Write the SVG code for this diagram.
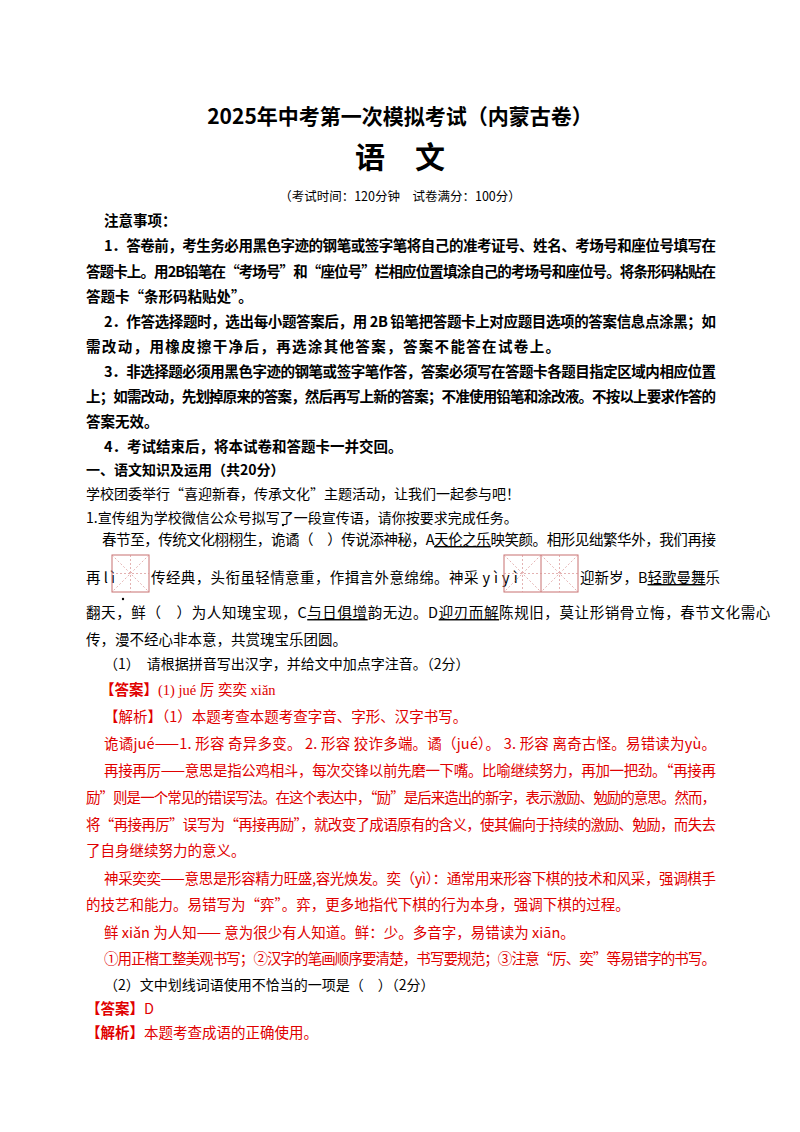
<svg xmlns="http://www.w3.org/2000/svg" width="800" height="1132" viewBox="0 0 800 1132">
<style>
text{font-family:"Noto Sans CJK SC","Liberation Serif",serif;font-size:14.5px;fill:#000}
.b{font-weight:bold}
.r{fill:#e00000}
.k{font-family:"Liberation Serif","Noto Sans CJK SC",serif}
.g{stroke:#c87070;stroke-width:1;fill:none}
.d{stroke:#d89090;stroke-width:0.7;stroke-dasharray:2 2;fill:none}
.ul{text-decoration:underline}
</style>
<rect width="800" height="1132" fill="#fff"/>
<text x="400" y="124" text-anchor="middle" class="b" style="font-size:21px">2025年中考第一次模拟考试（内蒙古卷）</text>
<text x="400" y="168" text-anchor="middle" class="b" style="font-size:30px">语　文</text>
<text x="400" y="201" text-anchor="middle" style="font-size:12.5px">（考试时间：120分钟　试卷满分：100分）</text>
<text x="104" y="226" class="b">注意事项：</text>
<text x="104" y="251" class="b" textLength="612" lengthAdjust="spacing">1．答卷前，考生务必用黑色字迹的钢笔或签字笔将自己的准考证号、姓名、考场号和座位号填写在</text>
<text x="86" y="277" class="b" textLength="630" lengthAdjust="spacing">答题卡上。用2B铅笔在“考场号”和“座位号”栏相应位置填涂自己的考场号和座位号。将条形码粘贴在</text>
<text x="86" y="302" class="b">答题卡“条形码粘贴处”。</text>
<text x="104" y="327" class="b" textLength="612" lengthAdjust="spacing">2．作答选择题时，选出每小题答案后，用 2B 铅笔把答题卡上对应题目选项的答案信息点涂黑；如</text>
<text x="86" y="352" class="b" textLength="474" lengthAdjust="spacing">需改动，用橡皮擦干净后，再选涂其他答案，答案不能答在试卷上。</text>
<text x="104" y="377" class="b" textLength="612" lengthAdjust="spacing">3．非选择题必须用黑色字迹的钢笔或签字笔作答，答案必须写在答题卡各题目指定区域内相应位置</text>
<text x="86" y="402" class="b" textLength="630" lengthAdjust="spacing">上；如需改动，先划掉原来的答案，然后再写上新的答案；不准使用铅笔和涂改液。不按以上要求作答的</text>
<text x="86" y="427" class="b">答案无效。</text>
<text x="104" y="452" class="b">4．考试结束后，将本试卷和答题卡一并交回。</text>
<text x="86" y="475" class="b" style="font-size:14px">一、语文知识及运用（共20分）</text>
<text x="86" y="499" style="font-size:14px">学校团委举行“喜迎新春，传承文化”主题活动，让我们一起参与吧！</text>
<text x="86" y="523" style="font-size:14px">1.宣传组为学校微信公众号拟写了一段宣传语，请你按要求完成任务。</text>
<g style="font-size:13.5px">
<text x="102" y="545" textLength="614" lengthAdjust="spacing">春节至，传统文化栩栩生，诡谲（　）传说添神秘，A<tspan class="ul">天伦之乐</tspan>映笑颜。相形见绌繁华外，我们再接</text>
<circle cx="283" cy="525" r="1.2"/>
<text x="86" y="583">再 l ì</text>
<text x="151" y="583" style="letter-spacing:0.4px">传经典，头衔虽轻情意重，作揖言外意绵绵。神采 y ì y ì</text>
<text x="580" y="583">迎新岁，B<tspan class="ul">轻歌曼舞</tspan>乐</text>
<text x="86" y="618" style="letter-spacing:0.6px">翻天，鲜（　）为人知瑰宝现，C<tspan class="ul">与日俱增</tspan>韵无边。D<tspan class="ul">迎刃而解</tspan>陈规旧，莫让形销骨立悔，春节文化需心</text>
<circle cx="123" cy="599" r="1.2"/>
<text x="86" y="645">传，漫不经心非本意，共赏瑰宝乐团圆。</text>
</g>
<g>
<rect class="g" x="112" y="555" width="37" height="37"/>
<line class="d" x1="112" y1="573.5" x2="149" y2="573.5"/><line class="d" x1="130.5" y1="555" x2="130.5" y2="592"/>
<line class="d" x1="112" y1="555" x2="149" y2="592"/><line class="d" x1="149" y1="555" x2="112" y2="592"/>
<rect class="g" x="504" y="555" width="74" height="37"/>
<line class="g" x1="541" y1="555" x2="541" y2="592"/>
<line class="d" x1="504" y1="573.5" x2="578" y2="573.5"/><line class="d" x1="522.5" y1="555" x2="522.5" y2="592"/><line class="d" x1="559.5" y1="555" x2="559.5" y2="592"/>
<line class="d" x1="504" y1="555" x2="541" y2="592"/><line class="d" x1="541" y1="555" x2="504" y2="592"/>
<line class="d" x1="541" y1="555" x2="578" y2="592"/><line class="d" x1="578" y1="555" x2="541" y2="592"/>
</g>
<text x="104" y="669" style="font-size:14px">（1）　请根据拼音写出汉字，并给文中加点字注音。（2分）</text>
<text x="100" y="695" class="r"><tspan class="b">【答案】</tspan><tspan class="k">(1) jué 厉 奕奕 xiǎn</tspan></text>
<text x="104" y="722" class="r">【解析】（1）本题考查本题考查字音、字形、汉字书写。</text>
<text x="104" y="749" class="r" textLength="612" lengthAdjust="spacing">诡谲jué——1. 形容 奇异多变。 2. 形容 狡诈多端。谲（jué）。 3. 形容 离奇古怪。易错读为yù。</text>
<text x="104" y="776" class="r" textLength="612" lengthAdjust="spacing">再接再厉——意思是指公鸡相斗，每次交锋以前先磨一下嘴。比喻继续努力，再加一把劲。“再接再</text>
<text x="86" y="803" class="r" textLength="630" lengthAdjust="spacing">励”则是一个常见的错误写法。在这个表达中，“励”是后来造出的新字，表示激励、勉励的意思。然而，</text>
<text x="86" y="830" class="r" textLength="630" lengthAdjust="spacing">将“再接再厉”误写为“再接再励”，就改变了成语原有的含义，使其偏向于持续的激励、勉励，而失去</text>
<text x="86" y="856" class="r">了自身继续努力的意义。</text>
<text x="104" y="884" class="r" textLength="612" lengthAdjust="spacing">神采奕奕——意思是形容精力旺盛,容光焕发。奕（yì）：通常用来形容下棋的技术和风采，强调棋手</text>
<text x="86" y="910" class="r">的技艺和能力。易错写为“弈”。弈，更多地指代下棋的行为本身，强调下棋的过程。</text>
<text x="104" y="938" class="r">鲜 xiǎn 为人知——  意为很少有人知道。鲜：少。多音字，易错读为 xiān。</text>
<text x="104" y="964" class="r" textLength="612" lengthAdjust="spacing">①用正楷工整美观书写；②汉字的笔画顺序要清楚，书写要规范；③注意“厉、奕”等易错字的书写。</text>
<text x="104" y="990" style="font-size:14px">（2）文中划线词语使用不恰当的一项是（　）（2分）</text>
<text x="86" y="1014" class="r"><tspan class="b">【答案】</tspan>D</text>
<text x="86" y="1038" class="r"><tspan class="b">【解析】</tspan>本题考查成语的正确使用。</text>
</svg>
